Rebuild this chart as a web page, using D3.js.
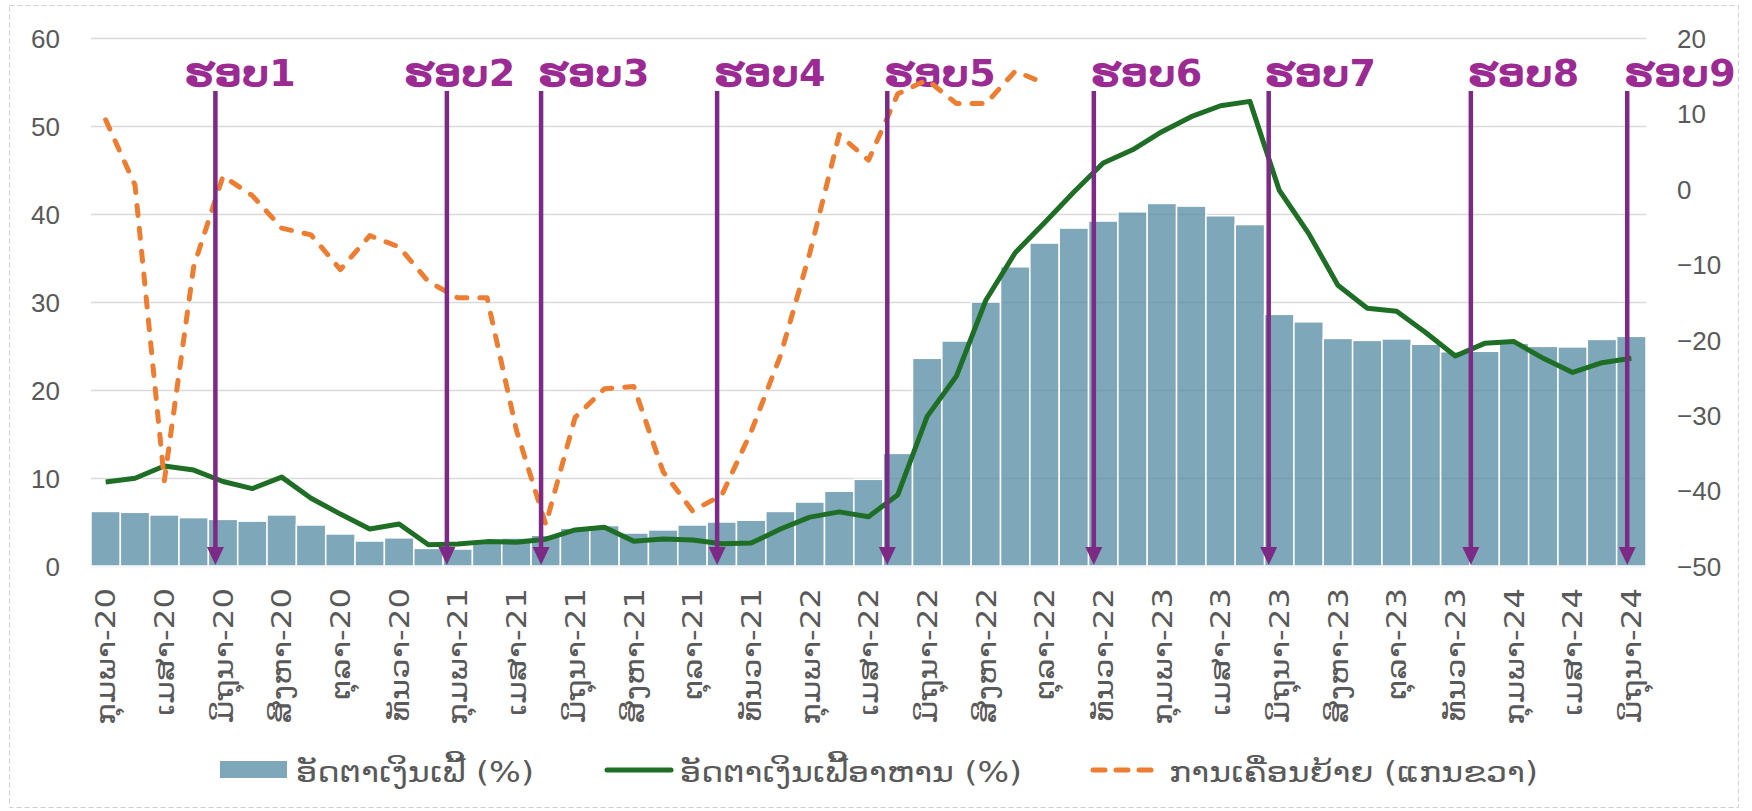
<!DOCTYPE html>
<html>
<head>
<meta charset="utf-8">
<title>ອັດຕາເງິນເຟີ້ ແລະ ການເຄື່ອນຍ້າຍ</title>
<script src="https://d3js.org/d3.v7.min.js"></script>
<style>
  body { margin: 0; background: #fff; }
  .axis path { display: none; }
  .axis--left line { stroke: #d9d9d9; stroke-width: 1.5; }
  .axis text { fill: #595959; font-family: "Liberation Sans", Arial, sans-serif; font-size: 26px; }
  .axis--x text { font-family: "DejaVu Sans", sans-serif; font-size: 27px; }
  .legend text { fill: #595959; font-family: "DejaVu Sans", sans-serif; font-size: 28px; }
  .round-label { fill: #9c2a93; font-family: "DejaVu Sans", sans-serif; font-weight: bold; font-size: 38px; }
</style>
</head>
<body>
<svg width="1752" height="811"></svg>
<script>

// month names (Lao), Feb 2020 .. Jun 2024
var monthNames = ["ມັງກອນ", "ກຸມພາ", "ມີນາ", "ເມສາ", "ພຶດສະພາ", "ມິຖຸນາ",
                  "ກໍລະກົດ", "ສິງຫາ", "ກັນຍາ", "ຕຸລາ", "ພະຈິກ", "ທັນວາ"];
var months = [];
for (var k = 0; k < 53; k++) {
  var m = (1 + k) % 12, yr = 20 + Math.floor((1 + k) / 12);
  months.push(monthNames[m] + "-" + yr);
}

// headline inflation (%)
var inflation = [6.2, 6.1, 5.8, 5.5, 5.3, 5.1, 5.8, 4.66, 3.64, 2.84, 3.2, 2.0, 1.93,
  2.9, 3.18, 3.5, 4.3, 4.6, 3.75, 4.1, 4.66, 5.0, 5.2, 6.2, 7.27, 8.5, 9.85,
  12.8, 23.6, 25.57, 30.0, 34.0, 36.7, 38.4, 39.2, 40.25, 41.2, 40.9, 39.8, 38.8,
  28.6, 27.75, 25.86, 25.64, 25.8, 25.2, 24.35, 24.4, 25.3, 24.96, 24.9, 25.75, 26.1];

// food inflation (%)
var foodInflation = [9.55, 9.97, 11.36, 10.9, 9.6, 8.8, 10.1, 7.7, 5.9, 4.2, 4.77, 2.42, 2.5,
  2.77, 2.7, 3.05, 4.1, 4.4, 2.8, 3.07, 2.95, 2.53, 2.6, 4.2, 5.55, 6.15, 5.6,
  8.1, 17.0, 21.6, 30.2, 35.6, 39.0, 42.5, 45.8, 47.3, 49.35, 51.06, 52.3, 52.8,
  42.7, 37.8, 31.9, 29.3, 28.96, 26.5, 23.86, 25.3, 25.5, 23.6, 22.0, 23.1, 23.6];

// movement (right axis), ends Oct-22
var movement = [9.15, 0.5, -38.7, -10.3, 1.7, -0.9, -5.2, -6.1, -10.7, -6.2, -7.7, -12.3, -14.45,
  -14.45, -32.0, -44.5, -30.3, -26.5, -26.2, -37.5, -42.7, -40.6, -32.2, -22.1, -8.5, 7.2, 3.8,
  12.6, 14.45, 11.3, 11.3, 15.6, 14.0];

// rounds, position in months from Feb-20
var rounds = ["ຮອບ1", "ຮອບ2", "ຮອບ3", "ຮອບ4", "ຮອບ5", "ຮອບ6", "ຮອບ7", "ຮອບ8", "ຮອບ9"];
var roundPos = [3.74, 11.63, 14.84, 20.84, 26.64, 33.68, 39.64, 46.53, 51.86];
var labelShift = [-31, -43, -3, -3, -3, -3, -4, -3, -3];

var leftTicks = [0, 10, 20, 30, 40, 50, 60];
var rightTicks = [-50, -40, -30, -20, -10, 0, 10, 20];

var seriesNames = ["ອັດຕາເງິນເຟີ້ (%)", "ອັດຕາເງິນເຟີ້ອາຫານ (%)", "ການເຄື່ອນຍ້າຍ (ແກນຂວາ)"];

var svg = d3.select("svg"),
    plotLeft = 91, plotRight = 1646, plotTop = 38, plotBottom = 566,
    labelStretch = 1.2;

// outer dashed frame
svg.append("rect")
    .attr("x", 9.5).attr("y", 5.5)
    .attr("width", 1729).attr("height", 802)
    .attr("fill", "#fff")
    .attr("stroke", "#d0d0d0")
    .attr("stroke-dasharray", "5,3");

var x = d3.scaleBand()
    .domain(d3.range(months.length))
    .range([plotLeft, plotRight])
    .paddingInner(0);

var xPos = d3.scaleLinear()
    .domain([-0.5, months.length - 0.5])
    .range([plotLeft, plotRight]);

var yL = d3.scaleLinear().domain([0, 60]).range([plotBottom, plotTop]);
var yR = d3.scaleLinear().domain([-50, 20]).range([plotBottom, plotTop]);

// left axis + gridlines
svg.append("g")
    .attr("class", "axis axis--left")
    .attr("transform", "translate(" + plotLeft + ",0)")
    .call(d3.axisLeft(yL).tickValues(leftTicks).tickSize(-(plotRight - plotLeft)).tickPadding(31))
  .selectAll("text")
    .attr("dy", "0.36em");

// right axis labels
svg.append("g")
    .attr("class", "axis axis--right")
    .attr("transform", "translate(" + plotRight + ",0)")
    .call(d3.axisRight(yR).tickValues(rightTicks).tickSize(0).tickPadding(31))
  .selectAll("text")
    .attr("dy", "0.36em");

// x axis, every second month (text stretched along its length like the original font)
svg.append("g")
    .attr("class", "axis axis--x")
    .attr("transform", "translate(0," + plotBottom + ")")
    .call(d3.axisBottom(x)
      .tickValues(d3.range(0, months.length, 2))
      .tickFormat(function(i) { return months[i]; })
      .tickSize(0))
  .selectAll("text")
    .attr("transform", "rotate(-90) scale(" + labelStretch + ",1)")
    .attr("x", -22 / labelStretch)
    .attr("y", 0)
    .attr("dy", "0.36em")
    .style("text-anchor", "end");

// bars
svg.append("g")
  .selectAll("rect")
  .data(inflation)
  .enter().append("rect")
    .attr("x", function(d, i) { return x(i); })
    .attr("y", function(d) { return yL(d); })
    .attr("width", x.bandwidth())
    .attr("height", function(d) { return yL(0) - yL(d); })
    .attr("fill", "rgb(84,138,163)")
    .attr("fill-opacity", 0.75)
    .attr("stroke", "#fff")
    .attr("stroke-width", 1.5);

// round labels
svg.append("g")
  .selectAll("text")
  .data(rounds)
  .enter().append("text")
    .attr("class", "round-label")
    .attr("x", function(d, i) { return xPos(roundPos[i]) + labelShift[i]; })
    .attr("y", 86)
    .text(function(d) { return d; });

// food inflation line
var lineL = d3.line()
    .x(function(d, i) { return x(i) + x.bandwidth() / 2; })
    .y(function(d) { return yL(d); });

svg.append("path")
    .datum(foodInflation)
    .attr("d", lineL)
    .attr("fill", "none")
    .attr("stroke", "#1f6e25")
    .attr("stroke-width", 5)
    .attr("stroke-linejoin", "round");

// movement line (right axis)
var lineR = d3.line()
    .x(function(d, i) { return x(i) + x.bandwidth() / 2; })
    .y(function(d) { return yR(d); });

svg.append("path")
    .datum(movement)
    .attr("d", lineR)
    .attr("fill", "none")
    .attr("stroke", "#ed7d31")
    .attr("stroke-width", 5)
    .attr("stroke-linecap", "round")
    .attr("stroke-linejoin", "round")
    .attr("stroke-dasharray", "10,13");

// arrows
var arrows = svg.append("g").selectAll("g")
  .data(roundPos)
  .enter().append("g")
    .attr("transform", function(d) { return "translate(" + xPos(d) + ",0)"; });

arrows.append("line")
    .attr("x1", 0).attr("x2", 0)
    .attr("y1", 91).attr("y2", plotBottom - 14)
    .attr("stroke", "#7d2a87")
    .attr("stroke-width", 4.5);

arrows.append("path")
    .attr("d", "M-8.5," + (plotBottom - 19) + "L8.5," + (plotBottom - 19) + "L0," + (plotBottom - 1) + "Z")
    .attr("fill", "#7d2a87");

// legend
var legend = svg.append("g").attr("class", "legend");

legend.append("rect")
    .attr("x", 220).attr("y", 761).attr("width", 67).attr("height", 17)
    .attr("fill", "rgb(84,138,163)").attr("fill-opacity", 0.75);
legend.append("text").attr("x", 296).attr("y", 782)
    .attr("textLength", 238).attr("lengthAdjust", "spacingAndGlyphs")
    .text(seriesNames[0]);

legend.append("line")
    .attr("x1", 607).attr("x2", 671).attr("y1", 770).attr("y2", 770)
    .attr("stroke", "#1f6e25").attr("stroke-width", 5).attr("stroke-linecap", "round");
legend.append("text").attr("x", 680).attr("y", 782)
    .attr("textLength", 342).attr("lengthAdjust", "spacingAndGlyphs")
    .text(seriesNames[1]);

legend.append("line")
    .attr("x1", 1093).attr("x2", 1152).attr("y1", 770).attr("y2", 770)
    .attr("stroke", "#ed7d31").attr("stroke-width", 5).attr("stroke-linecap", "round")
    .attr("stroke-dasharray", "12,11");
legend.append("text").attr("x", 1169).attr("y", 782)
    .attr("textLength", 369).attr("lengthAdjust", "spacingAndGlyphs")
    .text(seriesNames[2]);

</script>
</body>
</html>
